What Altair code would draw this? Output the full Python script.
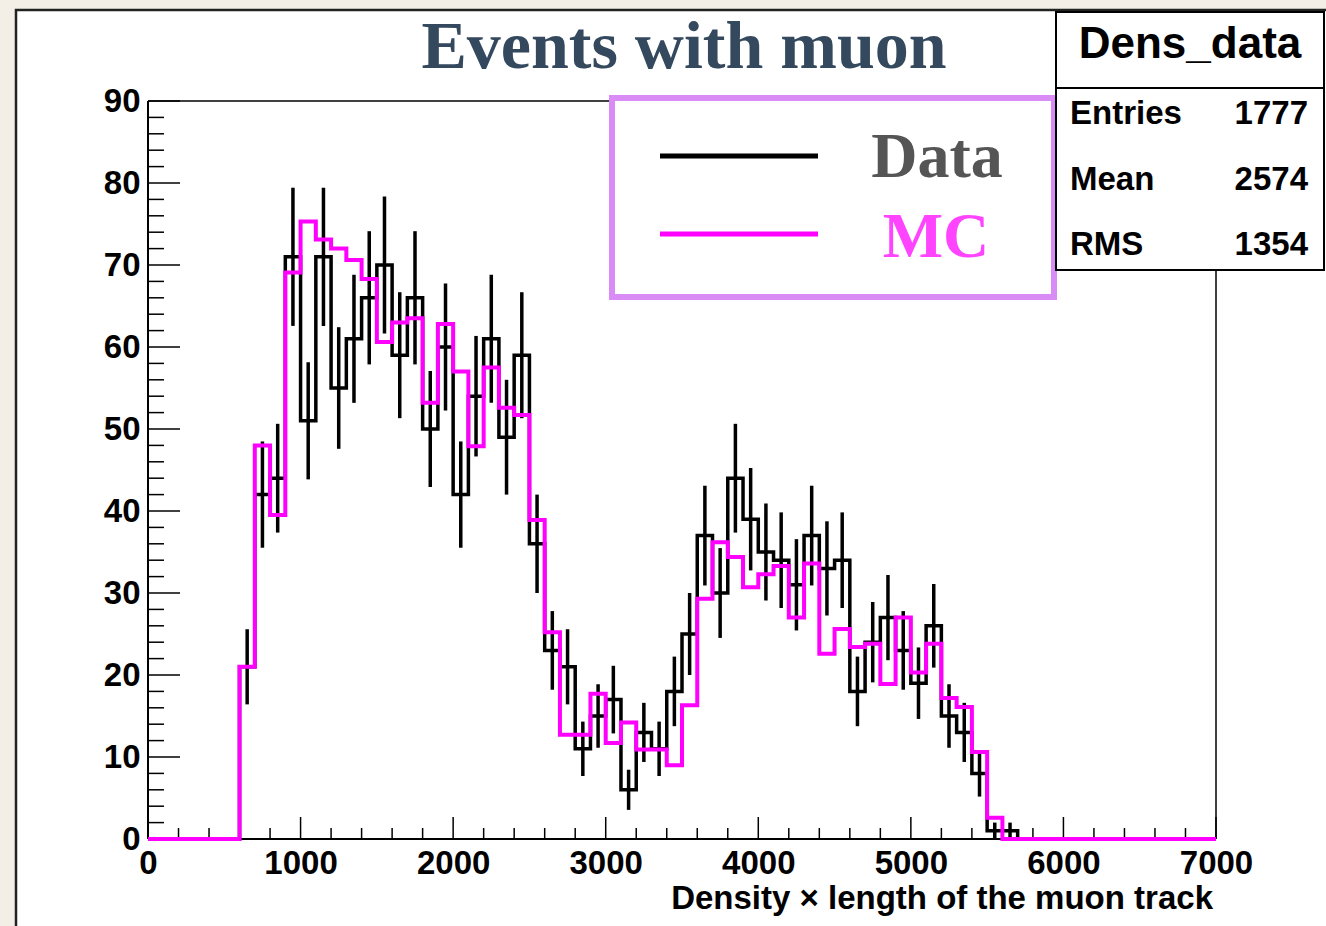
import altair as alt
import pandas as pd
import numpy as np

# ---- data ----
BIN_WIDTH = 100
FIRST_EDGE = 600
data_counts = [21, 42, 44, 71, 51, 71, 55, 61, 66, 70, 59, 66, 50, 60, 42, 54, 61, 49, 59, 36,
               23, 21, 11, 15, 17, 6, 13, 11, 18, 25, 37, 30, 44, 39, 35, 34, 31, 37, 33, 34,
               18, 24, 27, 23, 19, 26, 15, 13, 8, 1, 1]
mc_values = [21.0, 48.0, 39.5, 69.1, 75.3, 73.1, 72.0, 70.6, 68.3, 60.6, 63.0, 63.5, 53.2, 62.8,
             57.0, 47.9, 57.5, 52.6, 51.7, 38.9, 25.2, 12.7, 12.7, 17.7, 11.7, 14.2, 10.9, 10.9,
             9.0, 16.3, 29.3, 36.2, 34.4, 30.7, 32.3, 33.3, 27.0, 33.6, 22.6, 25.6, 23.4, 23.8,
             18.9, 27.0, 20.3, 23.8, 17.2, 16.1, 10.6, 2.6]
x_major_ticks = [0, 1000, 2000, 3000, 4000, 5000, 6000, 7000]
y_major_ticks = [0, 10, 20, 30, 40, 50, 60, 70, 80, 90]
x_minor_step = 200
y_minor_step = 2
stats_labels = ["Entries", "Mean", "RMS"]
stats_values = ["1777", "2574", "1354"]
title_text = "Events with muon"
x_title = "Density \u00d7 length of the muon track"
legend_names = ["Data", "MC"]

X_MAX, Y_MAX = 7000, 90
n_bins = X_MAX // BIN_WIDTH
edges = list(range(0, X_MAX + BIN_WIDTH, BIN_WIDTH))


def full(vals):
    arr = [0.0] * n_bins
    for i, v in enumerate(vals):
        arr[FIRST_EDGE // BIN_WIDTH + i] = v
    return arr + [arr[-1]]


step_df = pd.DataFrame({"edge": edges, "data": full(data_counts), "mc": full(mc_values)})
err_df = pd.DataFrame({
    "center": [FIRST_EDGE + BIN_WIDTH * (i + 0.5) for i in range(len(data_counts))],
    "count": data_counts,
})
err_df["lo"] = err_df["count"] - np.sqrt(err_df["count"])
err_df["hi"] = err_df["count"] + np.sqrt(err_df["count"])

x_minor = [v for v in range(0, X_MAX + 1, x_minor_step) if v % 1000 != 0]
y_minor = [v for v in range(0, Y_MAX + 1, y_minor_step) if v % 10 != 0]

W, H = 1068, 738
SANS = "Liberation Sans"
SERIF = "Liberation Serif"

xs = alt.Scale(domain=[0, X_MAX], nice=False, zero=True)
ys = alt.Scale(domain=[0, Y_MAX], nice=False, zero=True)
one = pd.DataFrame({"k": [0]})

x_axis = alt.Axis(values=x_major_ticks, ticks=False, grid=False, domain=False,
                  labelFont=SANS, labelFontWeight="bold", labelFontSize=33,
                  labelColor="black", labelPadding=8, title=None, format="d",
                  labelFlush=False, labelOverlap=False, zindex=1)
y_axis = alt.Axis(values=y_major_ticks, ticks=False, grid=False, domain=False,
                  labelFont=SANS, labelFontWeight="bold", labelFontSize=33,
                  labelColor="black", labelPadding=8, title=None, format="d",
                  labelFlush=False, labelOverlap=False, zindex=1)

panel = alt.Chart(one).mark_rect(fill="white", stroke="#222222", strokeWidth=2.5).encode(
    x=alt.value(-132), x2=alt.value(1260), y=alt.value(-91), y2=alt.value(900))

xtm = alt.Chart(pd.DataFrame({"v": x_major_ticks})).mark_rule(color="black", strokeWidth=1.5).encode(
    x=alt.X("v:Q", scale=xs, axis=x_axis), y=alt.value(H), y2=alt.value(H - 22))
xtn = alt.Chart(pd.DataFrame({"v": x_minor})).mark_rule(color="black", strokeWidth=1.5).encode(
    x=alt.X("v:Q", scale=xs), y=alt.value(H), y2=alt.value(H - 11))
ytm = alt.Chart(pd.DataFrame({"v": y_major_ticks})).mark_rule(color="black", strokeWidth=1.5).encode(
    y=alt.Y("v:Q", scale=ys, axis=y_axis), x=alt.value(0), x2=alt.value(32))
ytn = alt.Chart(pd.DataFrame({"v": y_minor})).mark_rule(color="black", strokeWidth=1.5).encode(
    y=alt.Y("v:Q", scale=ys), x=alt.value(0), x2=alt.value(16))

frame_top = alt.Chart(one).mark_rule(color="black", strokeWidth=1.5).encode(
    x=alt.value(0), x2=alt.value(W), y=alt.value(0))
frame_right = alt.Chart(one).mark_rule(color="black", strokeWidth=1.5).encode(
    x=alt.value(W), y=alt.value(0), y2=alt.value(H))
frame_left = alt.Chart(one).mark_rule(color="black", strokeWidth=2).encode(
    x=alt.value(0), y=alt.value(0), y2=alt.value(H))
frame_bottom = alt.Chart(one).mark_rule(color="black", strokeWidth=2).encode(
    x=alt.value(0), x2=alt.value(W), y=alt.value(H))

data_line = alt.Chart(step_df).mark_line(color="black", strokeWidth=3.5, interpolate="step-after").encode(
    x=alt.X("edge:Q", scale=xs), y=alt.Y("data:Q", scale=ys))
err = alt.Chart(err_df).mark_rule(color="black", strokeWidth=3.5).encode(
    x=alt.X("center:Q", scale=xs), y=alt.Y("lo:Q", scale=ys), y2="hi:Q")
mc_line = alt.Chart(step_df).mark_line(color="#ff00ff", strokeWidth=4, interpolate="step-after").encode(
    x=alt.X("edge:Q", scale=xs), y=alt.Y("mc:Q", scale=ys))

xtitle = alt.Chart(one).mark_text(text=x_title, font=SANS, fontWeight="bold", fontSize=33,
                                  align="right", baseline="middle", color="black").encode(
    x=alt.value(1065), y=alt.value(798))
title = alt.Chart(one).mark_text(text=title_text, font=SERIF, fontWeight="bold", fontSize=68,
                                 align="center", baseline="middle", color="#34495e").encode(
    x=alt.value(536), y=alt.value(-53))

leg_box = alt.Chart(one).mark_rect(fill="white", stroke="#d98cf5", strokeWidth=6).encode(
    x=alt.value(464), x2=alt.value(906), y=alt.value(-3), y2=alt.value(196))
leg_data = alt.Chart(one).mark_rule(color="black", strokeWidth=5).encode(
    x=alt.value(512), x2=alt.value(670), y=alt.value(55))
leg_mc = alt.Chart(one).mark_rule(color="#ff00ff", strokeWidth=5).encode(
    x=alt.value(512), x2=alt.value(670), y=alt.value(133))
leg_t1 = alt.Chart(one).mark_text(text=legend_names[0], font=SERIF, fontWeight="bold", fontSize=64,
                                  align="center", baseline="middle", color="#555555").encode(
    x=alt.value(789), y=alt.value(57))
leg_t2 = alt.Chart(one).mark_text(text=legend_names[1], font=SERIF, fontWeight="bold", fontSize=64,
                                  align="center", baseline="middle", color="#ff44ff").encode(
    x=alt.value(788), y=alt.value(137))

st_box = alt.Chart(one).mark_rect(fill="white", stroke="black", strokeWidth=2).encode(
    x=alt.value(908), x2=alt.value(1176), y=alt.value(-89), y2=alt.value(169))
st_sep = alt.Chart(one).mark_rule(color="black", strokeWidth=2).encode(
    x=alt.value(908), x2=alt.value(1176), y=alt.value(-13))
st_head = alt.Chart(one).mark_text(text="Dens_data", font=SANS, fontWeight="bold", fontSize=44,
                                   align="center", baseline="middle", color="black").encode(
    x=alt.value(1042), y=alt.value(-56))
stats_layers = []
for i, (lab, val) in enumerate(zip(stats_labels, stats_values)):
    ypix = 13 + i * 65.5
    stats_layers.append(alt.Chart(one).mark_text(text=lab, font=SANS, fontWeight="bold", fontSize=33,
                                                 align="left", baseline="middle", color="black").encode(
        x=alt.value(922), y=alt.value(ypix)))
    stats_layers.append(alt.Chart(one).mark_text(text=val, font=SANS, fontWeight="bold", fontSize=33,
                                                 align="right", baseline="middle", color="black").encode(
        x=alt.value(1160), y=alt.value(ypix)))

chart = alt.layer(
    panel, frame_top, frame_right, frame_left, frame_bottom, xtn, ytn, xtm, ytm,
    data_line, err, mc_line, xtitle, title,
    leg_box, leg_data, leg_mc, leg_t1, leg_t2,
    st_box, st_sep, st_head, *stats_layers,
).properties(
    width=W, height=H,
    autosize=alt.AutoSizeParams(type="none"),
    padding={"left": 148, "top": 101, "right": 110, "bottom": 87},
    background="#f3efe7",
).configure_view(stroke=None)

chart.save("out.html", embed_options={"renderer": "svg", "actions": False})
